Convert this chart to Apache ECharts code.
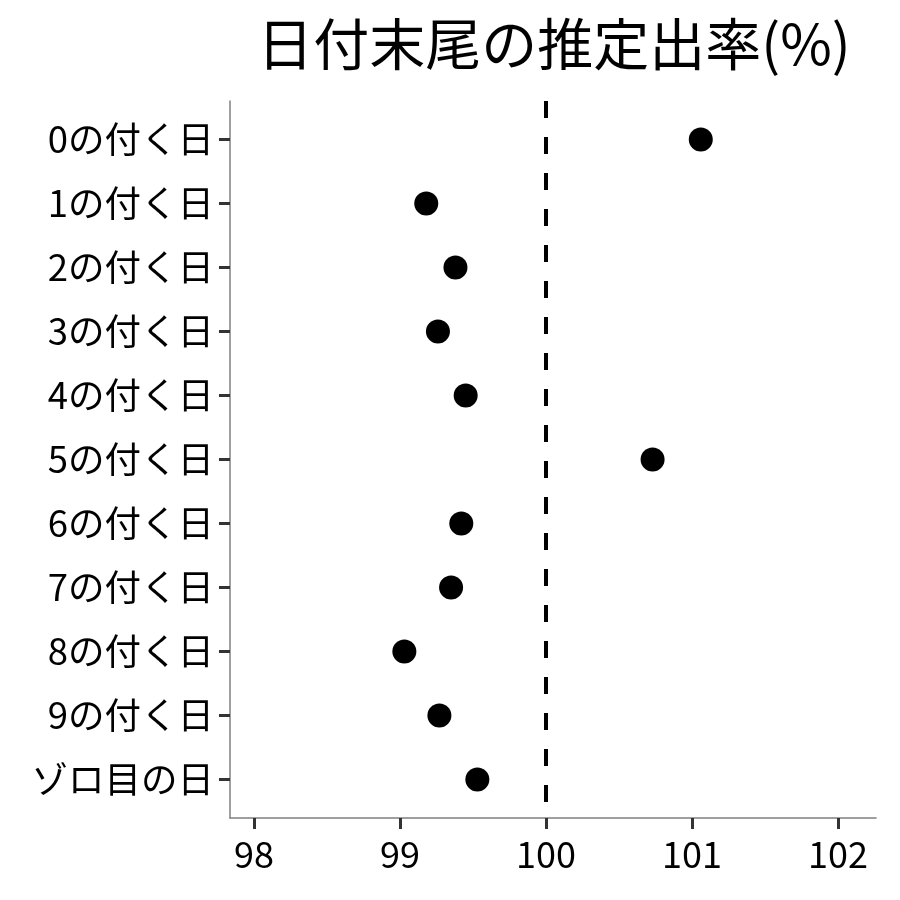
<!DOCTYPE html>
<html><head><meta charset="utf-8">
<script src="https://cdn.jsdelivr.net/npm/echarts@6/dist/echarts.min.js"></script>
<style>html,body{margin:0;padding:0;background:#fff}#c{width:900px;height:900px}</style>
</head><body><div id="c"></div>
<script>
const categories = ['0の付く日','1の付く日','2の付く日','3の付く日','4の付く日','5の付く日','6の付く日','7の付く日','8の付く日','9の付く日','ゾロ目の日'];
const rates = [101.06, 99.18, 99.38, 99.26, 99.45, 100.73, 99.42, 99.35, 99.03, 99.27, 99.53];
const xTicks = [98, 99, 100, 101, 102];
const refLine = 100;
const titleText = '日付末尾の推定出率(%)';

const font = '"Noto Sans CJK JP", "Noto Sans", sans-serif';
const chart = echarts.init(document.getElementById('c'), null, {renderer:'canvas'});
chart.setOption({
  animation: false,
  backgroundColor: '#fff',
  title: {
    text: titleText, left: 549, top: 11, textAlign: 'center',
    textStyle: {fontFamily: font, fontSize: 56, fontWeight: 'normal', color: '#000'}
  },
  grid: {left: 230, right: 24, top: 101, bottom: 82, containLabel: false},
  xAxis: {
    type: 'value', min: 97.836, max: 102.26,
    axisLine: {show: true, onZero: false, lineStyle: {color: '#808080', width: 1.5}},
    axisTick: {show: true, length: 11, customValues: xTicks, lineStyle: {color: '#333', width: 3}},
    axisLabel: {customValues: xTicks, margin: 18, fontFamily: font, fontSize: 36, color: '#000'},
    splitLine: {show: false}
  },
  yAxis: {
    type: 'value', inverse: true, min: -0.6, max: categories.length - 0.4,
    axisLine: {show: true, onZero: false, lineStyle: {color: '#808080', width: 1.5}},
    axisTick: {show: true, length: 11, customValues: categories.map((c,i)=>i), lineStyle: {color: '#333', width: 3}},
    axisLabel: {customValues: categories.map((c,i)=>i), margin: 16, fontFamily: font, fontSize: 36.5, color: '#000',
      formatter: v => categories[Math.round(v)]},
    splitLine: {show: false}
  },
  series: [{
    type: 'scatter',
    data: rates.map((v,i)=>[v,i]),
    symbolSize: 24,
    itemStyle: {color: '#000', opacity: 1},
    markLine: {
      silent: true, symbol: 'none', label: {show: false},
      lineStyle: {color: '#000', width: 4, type: [17,19]},
      data: [{xAxis: refLine}]
    }
  }]
});
</script></body></html>
